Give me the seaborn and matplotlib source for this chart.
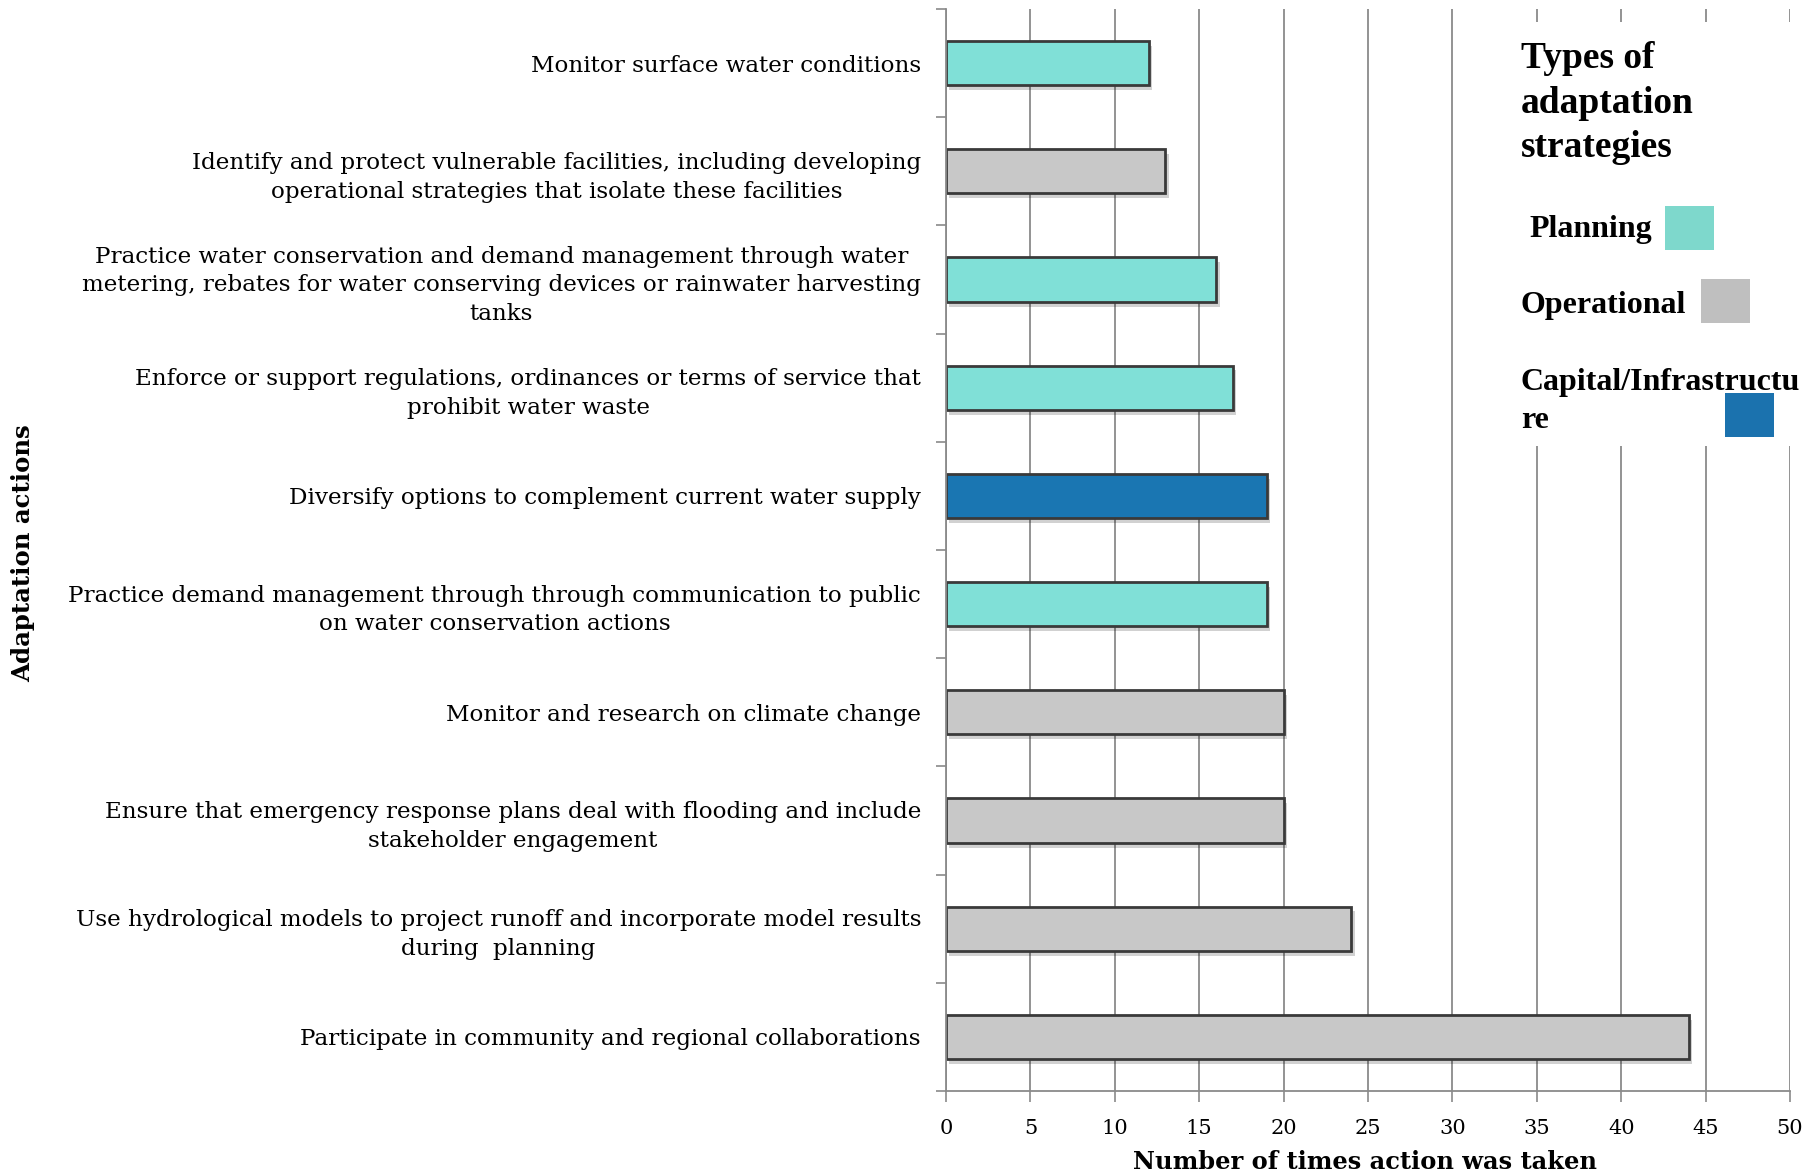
import matplotlib

matplotlib.use("Agg")
import matplotlib.pyplot as plt
import matplotlib.patheffects as pe
from matplotlib.patches import Rectangle
import pandas as pd
import seaborn as sns

actions = [
    "Monitor surface water conditions",
    "Identify and protect vulnerable facilities, including developing\noperational strategies that isolate these facilities",
    "Practice water conservation and demand management through water\nmetering, rebates for water conserving devices or rainwater harvesting\ntanks",
    "Enforce or support regulations, ordinances or terms of service that\nprohibit water waste",
    "Diversify options to complement current water supply",
    "Practice demand management through through communication to public\non water conservation actions",
    "Monitor and research on climate change",
    "Ensure that emergency response plans deal with flooding and include\nstakeholder engagement",
    "Use hydrological models to project runoff and incorporate model results\nduring  planning",
    "Participate in community and regional collaborations",
]
counts = [12, 13, 16, 17, 19, 19, 20, 20, 24, 44]
strategy = [
    "Planning", "Operational", "Planning", "Planning", "Capital/Infrastructure",
    "Planning", "Operational", "Operational", "Operational", "Operational",
]
strategy_names = ["Planning", "Operational", "Capital/Infrastructure"]
legend_labels = ["Planning", "Operational", "Capital/Infrastructu\nre"]
bar_colors = ["#80E0D7", "#C8C8C8", "#1A76B2"]
swatch_colors = ["#7ED8CC", "#BFBFBF", "#1B72AE"]
xticks = list(range(0, 51, 5))

sns.set_theme(style="white")
plt.rcParams["font.family"] = ["DejaVu Serif"]
plt.rcParams["text.color"] = "black"
plt.rcParams["axes.labelcolor"] = "black"
plt.rcParams["xtick.labelcolor"] = "black"
plt.rcParams["ytick.labelcolor"] = "black"

df = pd.DataFrame({"action": actions, "count": counts, "strategy": strategy})

W, H = 1818, 1175
AX_L, AX_R, AX_T, AX_B = 946, 1790, 9, 1091
fig = plt.figure(figsize=(W / 100, H / 100), dpi=100)
ax = fig.add_axes([AX_L / W, 1 - AX_B / H, (AX_R - AX_L) / W, (AX_B - AX_T) / H])

sns.barplot(
    data=df, x="count", y="action", hue="strategy", hue_order=strategy_names,
    palette=dict(zip(strategy_names, bar_colors)), saturation=1, dodge=False, width=0.41,
    edgecolor="#3a3a3a", linewidth=2, legend=False, orient="h", ax=ax,
)
for p in ax.patches:
    p.set_path_effects([
        pe.SimplePatchShadow(offset=(2.5, -3.5), shadow_rgbFace="#000000", alpha=0.18),
        pe.Normal(),
    ])

grid_c = "#8a8a8a"
ax.set_xlim(0, 50)
ax.set_ylim(9.5, -0.5)
ax.set_xticks(xticks)
ax.set_xticklabels([str(t) for t in xticks], fontsize=15)
ax.set_yticks(range(len(actions)))
ax.set_yticklabels(actions, fontsize=16.6, multialignment="center", linespacing=1.4)
ax.set_yticks([i - 0.5 for i in range(len(actions) + 1)], minor=True)
ax.tick_params(axis="y", which="major", length=0, pad=18)
ax.tick_params(axis="y", which="minor", left=True, length=7, width=1.2, color=grid_c)
ax.tick_params(axis="x", bottom=True, length=8, width=1.2, color=grid_c, pad=12)
ax.xaxis.grid(True, color=grid_c, linewidth=1.3)
ax.yaxis.grid(False)
ax.set_axisbelow(True)
for s in ["top", "right"]:
    ax.spines[s].set_visible(False)
for s in ["left", "bottom"]:
    ax.spines[s].set_color(grid_c)
    ax.spines[s].set_linewidth(1.3)

w_ax, h_ax = AX_R - AX_L, AX_B - AX_T
ax.set_xlabel("Number of times action was taken", fontsize=17.4, fontweight="bold")
ax.xaxis.set_label_coords((1365 - AX_L) / w_ax, -(1150 - AX_B) / h_ax)
ax.set_ylabel("Adaptation actions", fontsize=17.6, fontweight="bold")
ax.yaxis.set_label_coords((23 - AX_L) / w_ax, 1 - (553 - AX_T) / h_ax)
ax.yaxis.label.set_va("center")

# legend drawn by hand to keep the staggered swatches
fig.add_artist(Rectangle((1500 / W, 1 - 446 / H), 1 - 1500 / W, (446 - 22) / H,
                         transform=fig.transFigure, facecolor="white", edgecolor="none", zorder=5))
lfont = dict(family=["Liberation Serif", "DejaVu Serif"], fontweight="bold", zorder=6)
for txt, base in zip(["Types of", "adaptation", "strategies"], [68, 113, 157]):
    fig.text(1521 / W, 1 - base / H, txt, fontsize=27, va="baseline", **lfont)

text_pos = [(1529, [237]), (1521, [313]), (1521, [390, 428])]
swatches = [(1665, 206), (1701, 279), (1725, 393)]
for lab, col, (tx, bases), (sx, sy) in zip(legend_labels, swatch_colors, text_pos, swatches):
    for part, base in zip(lab.split("\n"), bases):
        fig.text(tx / W, 1 - base / H, part, fontsize=23, va="baseline", **lfont)
    fig.add_artist(Rectangle((sx / W, 1 - (sy + 44) / H), 49 / W, 44 / H,
                             transform=fig.transFigure, facecolor=col, edgecolor="none", zorder=6))

fig.savefig("out.png", dpi=100)
